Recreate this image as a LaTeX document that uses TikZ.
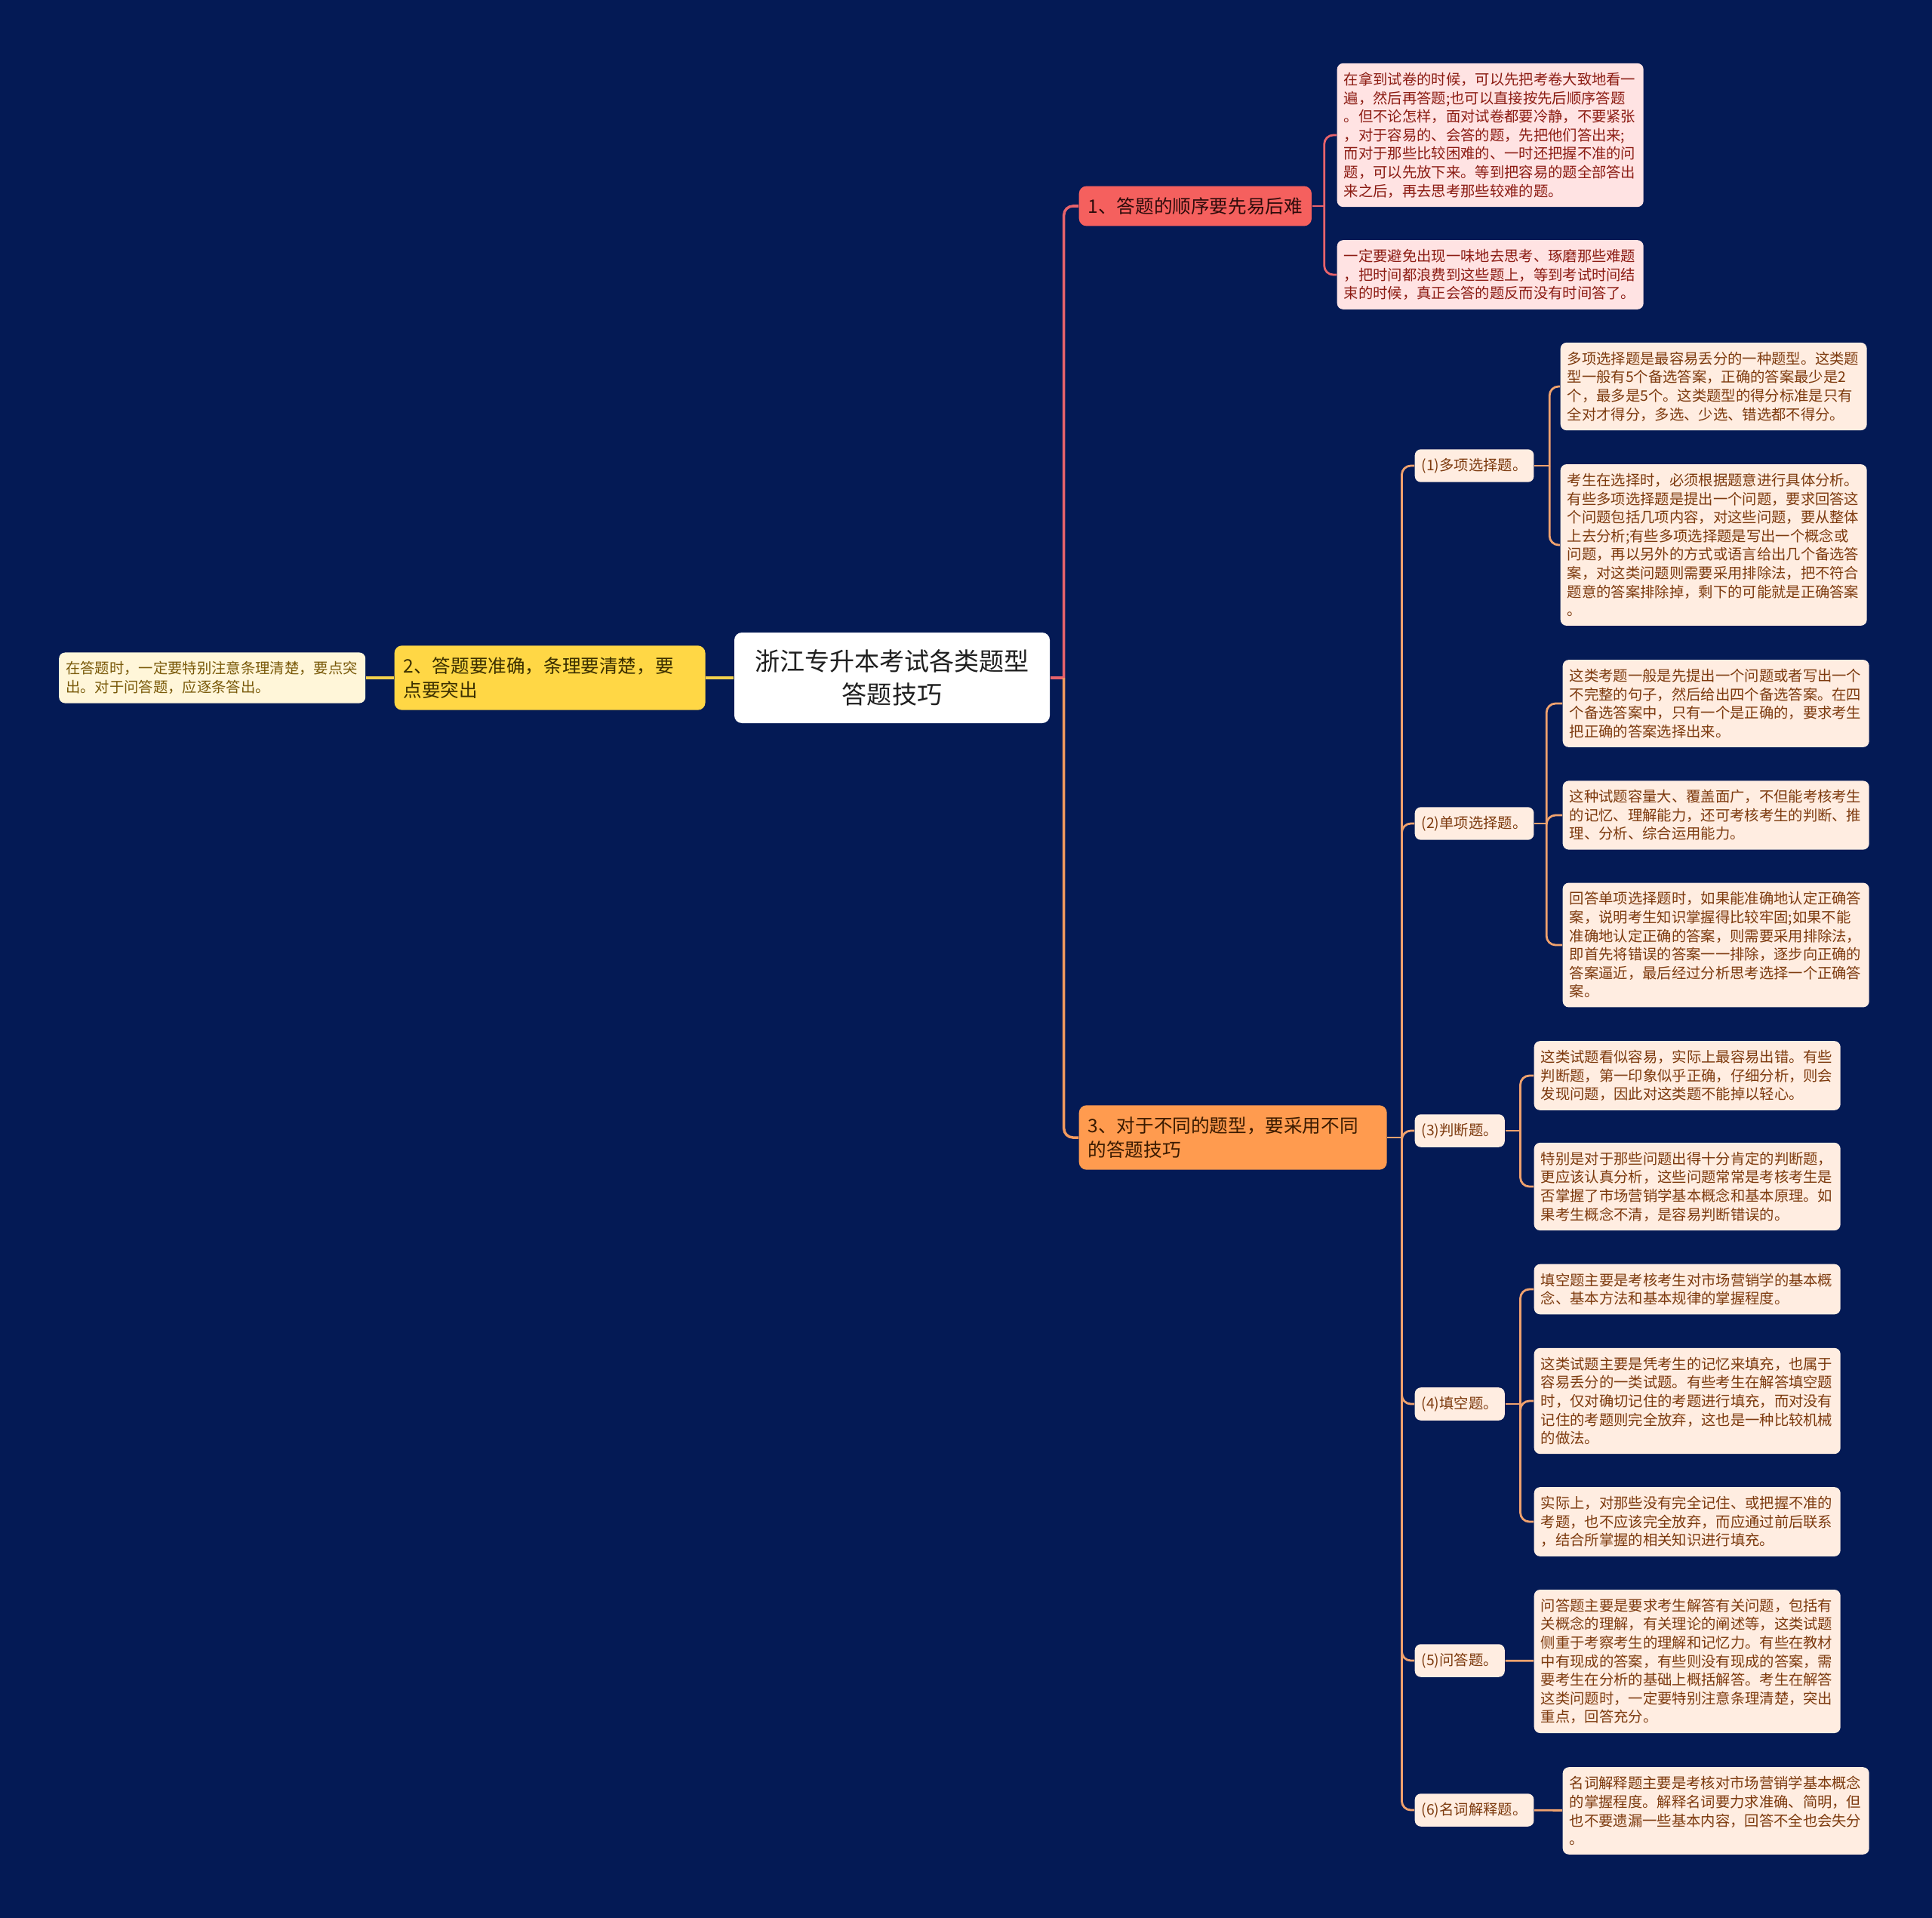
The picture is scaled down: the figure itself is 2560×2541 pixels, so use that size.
\documentclass[tikz,border=0pt]{standalone}
\usepackage{fontspec}
\setmainfont{Noto Sans CJK SC}
\usetikzlibrary{positioning}
\definecolor{navy}{HTML}{041A55}
\definecolor{rootink}{HTML}{1F1F1F}
\definecolor{coral}{HTML}{F5605E}
\definecolor{coralink}{HTML}{2E0B0B}
\definecolor{coralline}{HTML}{E8636B}
\definecolor{pinkfill}{HTML}{FFE3E3}
\definecolor{pinkink}{HTML}{8C1C13}
\definecolor{gold}{HTML}{FFD745}
\definecolor{goldink}{HTML}{3B2F00}
\definecolor{goldline}{HTML}{F4D24C}
\definecolor{creamfill}{HTML}{FFF6D9}
\definecolor{creamink}{HTML}{7A5A0A}
\definecolor{tangerine}{HTML}{FF9B4F}
\definecolor{tangerineink}{HTML}{3A1A00}
\definecolor{tangerineline}{HTML}{F39A5E}
\definecolor{peachfill}{HTML}{FFEDE1}
\definecolor{peachink}{HTML}{7D3A0E}
\definecolor{peachline}{HTML}{F0A26E}
\tikzset{
  every node/.style={font=\fontsize{5.5}{7}\selectfont},
  rootbox/.style={fill=white, rounded corners=1mm, text=rootink, align=center, minimum width=41.8mm, minimum height=12mm, font=\fontsize{9.4}{12.5}\selectfont},
  mainbox/.style={rounded corners=1mm, align=left, inner xsep=1.2mm, inner ysep=1.5mm, font=\fontsize{7}{9.3}\selectfont},
  redmain/.style={mainbox, fill=coral, text=coralink},
  goldmain/.style={mainbox, fill=gold, text=goldink, text width=38.8mm},
  tangerinemain/.style={mainbox, fill=tangerine, text=tangerineink, text width=38.4mm},
  leafbox/.style={rounded corners=0.8mm, align=left, text width=38.8mm, inner xsep=0.9mm, inner ysep=1.2mm, anchor=west},
  redleaf/.style={leafbox, fill=pinkfill, text=pinkink},
  creamleaf/.style={leafbox, fill=creamfill, text=creamink},
  peachleaf/.style={leafbox, fill=peachfill, text=peachink},
  tagbox/.style={rounded corners=0.8mm, fill=peachfill, text=peachink, inner xsep=0.9mm, minimum height=4mm, anchor=west},
  redline/.style={draw=coralline, line width=1pt, rounded corners=1.2mm},
  redthin/.style={draw=coralline, line width=0.8pt, rounded corners=1.2mm},
  goldthin/.style={draw=goldline, line width=0.9pt},
  tangerinelink/.style={draw=tangerineline, line width=1pt, rounded corners=1.2mm},
  peachlink/.style={draw=peachline, line width=0.8pt, rounded corners=1.2mm},
}
\begin{document}
\begin{tikzpicture}[x=0.1mm, y=-0.1mm]
\fill[navy] (0,0) rectangle (2560,2541);
\useasboundingbox (0,0) rectangle (2560,2541);
% root and the three main points
\node[rootbox] (root) at (1182,898) {浙江专升本考试各类题型\\答题技巧};
\node[redmain, anchor=west] (b1) at (1429,273) {1、答题的顺序要先易后难};
\node[goldmain, left=3.7mm of root] (b2) {2、答题要准确，条理要清楚，要\\点要突出};
\node[tangerinemain, anchor=west] (b3) at (1429,1507) {3、对于不同的题型，要采用不同\\的答题技巧};
% point 1
\node[redleaf] (t1) at (1771,179) {在拿到试卷的时候，可以先把考卷大致地看一\\遍，然后再答题;也可以直接按先后顺序答题\\。但不论怎样，面对试卷都要冷静，不要紧张\\，对于容易的、会答的题，先把他们答出来;\\而对于那些比较困难的、一时还把握不准的问\\题，可以先放下来。等到把容易的题全部答出\\来之后，再去思考那些较难的题。};
\node[redleaf] (t2) at (1771,364) {一定要避免出现一味地去思考、琢磨那些难题\\，把时间都浪费到这些题上，等到考试时间结\\束的时候，真正会答的题反而没有时间答了。};
% point 2
\node[creamleaf, left=3.7mm of b2] (l1) {在答题时，一定要特别注意条理清楚，要点突\\出。对于问答题，应逐条答出。};
% point 3: question types
\node[tagbox] (s1) at (1874,617) {(1)多项选择题。};
\node[tagbox] (s2) at (1874,1091) {(2)单项选择题。};
\node[tagbox] (s3) at (1874,1498) {(3)判断题。};
\node[tagbox] (s4) at (1874,1860) {(4)填空题。};
\node[tagbox] (s5) at (1874,2200) {(5)问答题。};
\node[tagbox] (s6) at (1874,2398) {(6)名词解释题。};
\node[peachleaf] (m1) at (2067,512) {多项选择题是最容易丢分的一种题型。这类题\\型一般有5个备选答案，正确的答案最少是2\\个，最多是5个。这类题型的得分标准是只有\\全对才得分，多选、少选、错选都不得分。};
\node[peachleaf] (m2) at (2067,722) {考生在选择时，必须根据题意进行具体分析。\\有些多项选择题是提出一个问题，要求回答这\\个问题包括几项内容，对这些问题，要从整体\\上去分析;有些多项选择题是写出一个概念或\\问题，再以另外的方式或语言给出几个备选答\\案，对这类问题则需要采用排除法，把不符合\\题意的答案排除掉，剩下的可能就是正确答案\\。};
\node[peachleaf] (u1) at (2070,932) {这类考题一般是先提出一个问题或者写出一个\\不完整的句子，然后给出四个备选答案。在四\\个备选答案中，只有一个是正确的，要求考生\\把正确的答案选择出来。};
\node[peachleaf] (u2) at (2070,1080) {这种试题容量大、覆盖面广，不但能考核考生\\的记忆、理解能力，还可考核考生的判断、推\\理、分析、综合运用能力。};
\node[peachleaf] (u3) at (2070,1252) {回答单项选择题时，如果能准确地认定正确答\\案，说明考生知识掌握得比较牢固;如果不能\\准确地认定正确的答案，则需要采用排除法，\\即首先将错误的答案一一排除，逐步向正确的\\答案逼近，最后经过分析思考选择一个正确答\\案。};
\node[peachleaf] (p1) at (2032,1425) {这类试题看似容易，实际上最容易出错。有些\\判断题，第一印象似乎正确，仔细分析，则会\\发现问题，因此对这类题不能掉以轻心。};
\node[peachleaf] (p2) at (2032,1572) {特别是对于那些问题出得十分肯定的判断题，\\更应该认真分析，这些问题常常是考核考生是\\否掌握了市场营销学基本概念和基本原理。如\\果考生概念不清，是容易判断错误的。};
\node[peachleaf] (f1) at (2032,1708) {填空题主要是考核考生对市场营销学的基本概\\念、基本方法和基本规律的掌握程度。};
\node[peachleaf] (f2) at (2032,1856) {这类试题主要是凭考生的记忆来填充，也属于\\容易丢分的一类试题。有些考生在解答填空题\\时，仅对确切记住的考题进行填充，而对没有\\记住的考题则完全放弃，这也是一种比较机械\\的做法。};
\node[peachleaf] (f3) at (2032,2016) {实际上，对那些没有完全记住、或把握不准的\\考题，也不应该完全放弃，而应通过前后联系\\，结合所掌握的相关知识进行填充。};
\node[peachleaf] (qa) at (2032,2201) {问答题主要是要求考生解答有关问题，包括有\\关概念的理解，有关理论的阐述等，这类试题\\侧重于考察考生的理解和记忆力。有些在教材\\中有现成的答案，有些则没有现成的答案，需\\要考生在分析的基础上概括解答。考生在解答\\这类问题时，一定要特别注意条理清楚，突出\\重点，回答充分。};
\node[peachleaf] (tm) at (2070,2399) {名词解释题主要是考核对市场营销学基本概念\\的掌握程度。解释名词要力求准确、简明，但\\也不要遗漏一些基本内容，回答不全也会失分\\。};
% connectors
\coordinate[right=1.8mm of root] (j0);
\draw[redline] (root.east) -- (j0); \draw[redline] (j0) |- (b1.west); \draw[tangerinelink] (j0) |- (b3.west);
\draw[goldthin] (root) -- (b2); \draw[goldthin] (b2) -- (l1);
\coordinate[right=1.6mm of b1] (j1);
\draw[redthin] (b1.east) -- (j1); \draw[redthin] (j1) |- (t1.west); \draw[redthin] (j1) |- (t2.west);
\coordinate[right=1.9mm of b3] (j3);
\draw[peachlink] (b3.east) -- (j3); \draw[peachlink] (j3) |- (s1.west); \draw[peachlink] (j3) |- (s2.west); \draw[peachlink] (j3) |- (s3.west);
\draw[peachlink] (j3) |- (s4.west); \draw[peachlink] (j3) |- (s5.west); \draw[peachlink] (j3) |- (s6.west);
\coordinate[right=2mm of s1] (k1);
\draw[peachlink] (s1.east) -- (k1); \draw[peachlink] (k1) |- (m1.west); \draw[peachlink] (k1) |- (m2.west);
\coordinate[right=1.6mm of s2] (k2);
\draw[peachlink] (s2.east) -- (k2); \draw[peachlink] (k2) |- (u1.west); \draw[peachlink] (k2) |- (u2.west); \draw[peachlink] (k2) |- (u3.west);
\coordinate[right=2mm of s3] (k3);
\draw[peachlink] (s3.east) -- (k3); \draw[peachlink] (k3) |- (p1.west); \draw[peachlink] (k3) |- (p2.west);
\coordinate[right=2mm of s4] (k4);
\draw[peachlink] (s4.east) -- (k4); \draw[peachlink] (k4) |- (f1.west); \draw[peachlink] (k4) |- (f2.west); \draw[peachlink] (k4) |- (f3.west);
\draw[peachlink] (s5) -- (qa); \draw[peachlink] (s6) -- (tm);
\end{tikzpicture}
\end{document}
